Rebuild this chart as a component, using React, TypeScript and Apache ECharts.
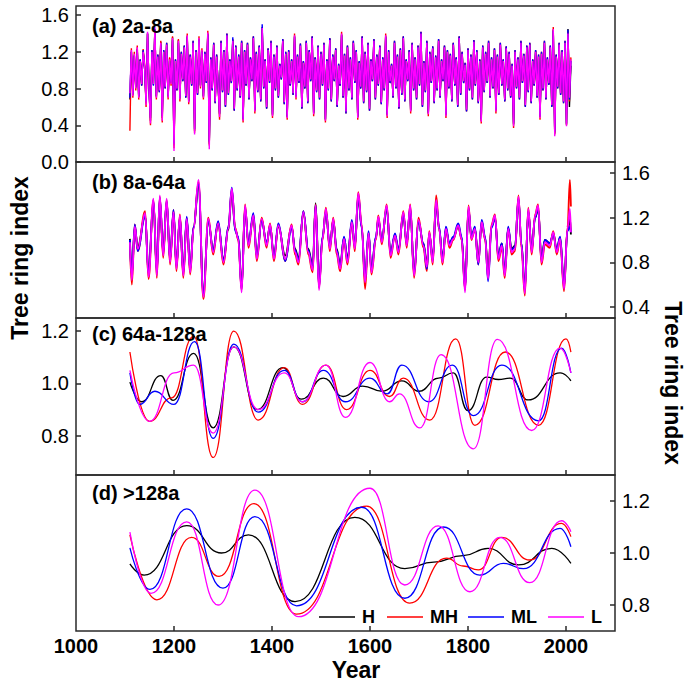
import React, { useEffect, useRef } from 'react';
import * as echarts from 'echarts';

// ---------- Panel (a) 2a-8a : values every 3 years from 1110 ----------
const A_START = 1110;
const A_STEP = 3;
const aL = [
  0.75, 1.22, 0.72, 1.18, 0.80, 1.25, 0.70, 1.10, 0.85, 1.20,
  1.05, 0.62, 1.42, 0.80, 0.42, 1.20, 0.85, 1.47, 0.70, 1.15,
  0.78, 1.30, 0.45, 1.20, 0.82, 1.28, 0.70, 1.12, 0.85, 1.35,
  0.12, 1.10, 0.80, 1.32, 0.68, 1.18, 0.90, 1.25, 0.72, 1.38,
  0.65, 1.15, 0.85, 1.30, 0.30, 1.20, 0.75, 1.35, 0.82, 1.22,
  0.70, 1.18, 0.88, 1.41, 0.14, 1.12, 0.80, 1.28, 0.66, 1.15,
  0.85, 0.49, 1.30, 0.78, 1.20, 0.62, 1.38, 0.75, 1.10, 0.88,
  1.32, 0.58, 1.25, 0.80, 1.15, 0.72, 1.30, 0.45, 1.20, 0.85,
  1.28, 0.70, 1.12, 0.90, 1.35, 0.55, 1.18, 0.78, 1.25, 0.68,
  1.46, 0.82, 1.10, 0.60, 1.22, 0.88, 1.30, 0.50, 1.15, 0.80,
  1.25, 0.72, 1.05, 0.92, 1.32, 0.65, 1.18, 0.48, 1.20, 0.85,
  1.10, 0.75, 1.38, 0.70, 1.15, 0.88, 1.27, 0.60, 1.08, 0.82,
  1.30, 0.66, 1.20, 0.90, 1.35, 0.52, 1.12, 0.78, 1.25, 0.70,
  1.18, 0.85, 1.28, 0.45, 1.10, 0.80, 1.33, 0.68, 1.15, 0.90,
  1.22, 0.62, 1.05, 0.85, 1.40, 0.72, 1.16, 0.55, 1.25, 0.80,
  1.12, 0.70, 1.30, 0.88, 1.20, 0.48, 1.08, 0.82, 1.35, 0.66,
  1.18, 0.78, 1.28, 0.58, 1.10, 0.90, 1.32, 0.70, 1.15, 0.85,
  1.25, 0.65, 1.12, 0.80, 1.38, 0.50, 1.20, 0.88, 1.05, 0.72,
  1.30, 0.82, 1.15, 0.60, 1.22, 0.75, 1.35, 0.68, 1.10, 0.90,
  1.20, 0.55, 1.28, 0.80, 1.12, 0.70, 1.25, 0.85, 1.40, 0.62,
  1.08, 0.78, 1.30, 0.52, 1.18, 0.88, 1.24, 0.66, 1.14, 0.80,
  1.32, 0.72, 1.10, 0.90, 1.25, 0.50, 1.20, 0.82, 1.16, 0.68,
  1.28, 0.85, 1.12, 0.62, 1.35, 0.75, 1.18, 0.88, 1.06, 0.57,
  1.22, 0.80, 1.15, 0.70, 1.31, 0.85, 1.20, 0.66, 1.10, 0.44,
  1.25, 0.78, 1.18, 0.88, 1.30, 0.72, 1.12, 0.82, 1.22, 0.55,
  1.15, 0.75, 1.28, 0.85, 1.10, 0.68, 1.24, 0.80, 1.18, 0.72,
  1.05, 0.39, 1.20, 0.82, 1.12, 0.70, 1.30, 0.88, 1.16, 0.62,
  1.25, 0.78, 1.28, 0.66, 1.10, 0.85, 1.20, 0.72, 1.15, 0.48,
  1.18, 0.80, 1.30, 0.70, 1.12, 0.86, 1.25, 0.62, 1.45, 0.28,
  1.15, 0.82, 1.28, 0.75, 1.20, 0.66, 1.30, 0.39, 1.40, 0.70,
  1.12,
];
const aML = [
  0.70, 1.20, 0.74, 1.16, 0.82, 1.22, 0.72, 1.12, 0.83, 1.22,
  1.03, 0.66, 1.40, 0.78, 0.48, 1.22, 0.83, 1.44, 0.72, 1.17,
  0.76, 1.28, 0.50, 1.22, 0.80, 1.30, 0.72, 1.10, 0.87, 1.33,
  0.20, 1.12, 0.78, 1.30, 0.70, 1.20, 0.88, 1.27, 0.70, 1.36,
  0.67, 1.17, 0.83, 1.32, 0.36, 1.22, 0.73, 1.33, 0.84, 1.20,
  0.72, 1.20, 0.86, 1.39, 0.22, 1.14, 0.78, 1.30, 0.64, 1.17,
  0.83, 0.53, 1.32, 0.76, 1.22, 0.60, 1.40, 0.73, 1.12, 0.86,
  1.36, 0.56, 1.27, 0.78, 1.17, 0.70, 1.32, 0.47, 1.22, 0.83,
  1.30, 0.68, 1.14, 0.88, 1.37, 0.57, 1.20, 0.76, 1.27, 0.66,
  1.50, 0.80, 1.12, 0.58, 1.24, 0.86, 1.32, 0.52, 1.17, 0.78,
  1.27, 0.70, 1.07, 0.90, 1.34, 0.63, 1.20, 0.50, 1.22, 0.83,
  1.12, 0.73, 1.36, 0.72, 1.17, 0.86, 1.29, 0.58, 1.10, 0.80,
  1.32, 0.64, 1.22, 0.88, 1.37, 0.54, 1.14, 0.76, 1.27, 0.68,
  1.20, 0.83, 1.30, 0.47, 1.12, 0.78, 1.35, 0.66, 1.17, 0.88,
  1.24, 0.60, 1.07, 0.83, 1.38, 0.70, 1.18, 0.53, 1.27, 0.78,
  1.14, 0.68, 1.32, 0.86, 1.22, 0.50, 1.10, 0.80, 1.37, 0.64,
  1.20, 0.76, 1.30, 0.56, 1.12, 0.88, 1.34, 0.68, 1.17, 0.83,
  1.27, 0.63, 1.14, 0.78, 1.36, 0.52, 1.22, 0.86, 1.07, 0.70,
  1.32, 0.80, 1.17, 0.58, 1.24, 0.73, 1.37, 0.66, 1.12, 0.88,
  1.22, 0.57, 1.30, 0.78, 1.14, 0.68, 1.27, 0.83, 1.42, 0.60,
  1.10, 0.76, 1.32, 0.54, 1.20, 0.86, 1.26, 0.64, 1.16, 0.78,
  1.34, 0.70, 1.12, 0.88, 1.27, 0.52, 1.22, 0.80, 1.18, 0.66,
  1.30, 0.83, 1.14, 0.60, 1.37, 0.73, 1.20, 0.86, 1.08, 0.55,
  1.24, 0.78, 1.17, 0.68, 1.33, 0.83, 1.22, 0.64, 1.12, 0.47,
  1.27, 0.76, 1.20, 0.86, 1.32, 0.70, 1.14, 0.80, 1.24, 0.57,
  1.17, 0.73, 1.30, 0.83, 1.12, 0.66, 1.26, 0.78, 1.20, 0.70,
  1.07, 0.42, 1.22, 0.80, 1.14, 0.68, 1.32, 0.86, 1.18, 0.60,
  1.27, 0.76, 1.30, 0.64, 1.12, 0.83, 1.22, 0.70, 1.17, 0.50,
  1.20, 0.78, 1.32, 0.68, 1.14, 0.84, 1.27, 0.60, 1.43, 0.33,
  1.17, 0.80, 1.30, 0.73, 1.22, 0.64, 1.32, 0.42, 1.44, 0.68,
  1.10,
];
const aMH = [
  0.34, 1.24, 0.70, 1.20, 0.78, 1.27, 0.68, 1.12, 0.83, 1.23,
  1.07, 0.60, 1.40, 0.82, 0.40, 1.22, 0.86, 1.45, 0.68, 1.17,
  0.76, 1.32, 0.43, 1.22, 0.80, 1.30, 0.68, 1.14, 0.83, 1.37,
  0.15, 1.12, 0.78, 1.34, 0.66, 1.20, 0.88, 1.27, 0.70, 1.40,
  0.63, 1.17, 0.83, 1.32, 0.32, 1.22, 0.73, 1.37, 0.80, 1.24,
  0.68, 1.20, 0.86, 1.43, 0.18, 1.14, 0.78, 1.30, 0.64, 1.17,
  0.83, 0.46, 1.32, 0.76, 1.22, 0.60, 1.40, 0.73, 1.12, 0.86,
  1.34, 0.56, 1.27, 0.78, 1.17, 0.70, 1.32, 0.43, 1.22, 0.83,
  1.30, 0.68, 1.14, 0.88, 1.37, 0.53, 1.20, 0.76, 1.27, 0.66,
  1.44, 0.80, 1.12, 0.58, 1.24, 0.86, 1.32, 0.48, 1.17, 0.78,
  1.27, 0.70, 1.07, 0.90, 1.34, 0.63, 1.20, 0.46, 1.22, 0.83,
  1.12, 0.73, 1.40, 0.68, 1.17, 0.86, 1.29, 0.58, 1.10, 0.80,
  1.32, 0.64, 1.22, 0.88, 1.37, 0.50, 1.14, 0.76, 1.27, 0.68,
  1.20, 0.83, 1.30, 0.43, 1.12, 0.78, 1.35, 0.66, 1.17, 0.88,
  1.24, 0.60, 1.07, 0.83, 1.42, 0.70, 1.18, 0.53, 1.27, 0.78,
  1.14, 0.68, 1.32, 0.86, 1.22, 0.46, 1.10, 0.80, 1.37, 0.64,
  1.20, 0.76, 1.30, 0.56, 1.12, 0.88, 1.34, 0.68, 1.17, 0.83,
  1.27, 0.63, 1.14, 0.78, 1.40, 0.48, 1.22, 0.86, 1.07, 0.70,
  1.32, 0.80, 1.17, 0.58, 1.24, 0.73, 1.37, 0.66, 1.12, 0.88,
  1.22, 0.53, 1.30, 0.78, 1.14, 0.68, 1.27, 0.83, 1.42, 0.60,
  1.10, 0.76, 1.32, 0.50, 1.20, 0.86, 1.26, 0.64, 1.16, 0.78,
  1.34, 0.70, 1.12, 0.88, 1.27, 0.48, 1.22, 0.80, 1.18, 0.66,
  1.30, 0.83, 1.14, 0.60, 1.37, 0.73, 1.20, 0.86, 1.08, 0.55,
  1.24, 0.78, 1.17, 0.68, 1.33, 0.83, 1.22, 0.64, 1.12, 0.42,
  1.27, 0.76, 1.20, 0.86, 1.32, 0.70, 1.14, 0.80, 1.24, 0.53,
  1.17, 0.73, 1.30, 0.83, 1.12, 0.66, 1.26, 0.78, 1.20, 0.70,
  1.07, 0.37, 1.22, 0.80, 1.14, 0.68, 1.32, 0.86, 1.18, 0.60,
  1.27, 0.76, 1.30, 0.64, 1.12, 0.83, 1.22, 0.70, 1.17, 0.46,
  1.20, 0.78, 1.32, 0.68, 1.14, 0.84, 1.27, 0.60, 1.47, 0.30,
  1.17, 0.80, 1.30, 0.73, 1.22, 0.64, 1.32, 0.40, 1.42, 0.66,
  1.14,
];
const aH = [
  0.68, 1.20, 0.73, 1.16, 0.81, 1.23, 0.71, 1.11, 0.84, 1.21,
  1.04, 0.64, 1.40, 0.81, 0.45, 1.21, 0.84, 1.45, 0.71, 1.16,
  0.77, 1.31, 0.48, 1.21, 0.81, 1.29, 0.71, 1.13, 0.86, 1.36,
  0.18, 1.11, 0.79, 1.33, 0.69, 1.19, 0.89, 1.26, 0.71, 1.37,
  0.66, 1.16, 0.84, 1.31, 0.34, 1.21, 0.74, 1.34, 0.83, 1.21,
  0.71, 1.19, 0.87, 1.40, 0.20, 1.13, 0.79, 1.29, 0.65, 1.16,
  0.84, 0.52, 1.31, 0.77, 1.21, 0.61, 1.39, 0.74, 1.11, 0.87,
  1.33, 0.57, 1.26, 0.79, 1.16, 0.71, 1.31, 0.46, 1.21, 0.84,
  1.29, 0.69, 1.13, 0.89, 1.36, 0.56, 1.19, 0.77, 1.26, 0.67,
  1.47, 0.81, 1.11, 0.59, 1.23, 0.87, 1.31, 0.51, 1.16, 0.79,
  1.26, 0.71, 1.06, 0.91, 1.33, 0.64, 1.19, 0.49, 1.21, 0.84,
  1.11, 0.74, 1.37, 0.71, 1.16, 0.87, 1.28, 0.59, 1.09, 0.81,
  1.31, 0.65, 1.21, 0.89, 1.36, 0.53, 1.13, 0.77, 1.26, 0.69,
  1.19, 0.84, 1.29, 0.46, 1.11, 0.79, 1.34, 0.67, 1.16, 0.89,
  1.23, 0.61, 1.06, 0.84, 1.39, 0.71, 1.17, 0.56, 1.26, 0.79,
  1.13, 0.69, 1.31, 0.87, 1.21, 0.49, 1.09, 0.81, 1.36, 0.65,
  1.19, 0.77, 1.29, 0.57, 1.11, 0.89, 1.33, 0.69, 1.16, 0.84,
  1.26, 0.64, 1.13, 0.79, 1.37, 0.51, 1.21, 0.87, 1.06, 0.71,
  1.31, 0.81, 1.16, 0.59, 1.23, 0.74, 1.36, 0.67, 1.11, 0.89,
  1.21, 0.56, 1.29, 0.79, 1.13, 0.69, 1.26, 0.84, 1.41, 0.61,
  1.09, 0.77, 1.31, 0.53, 1.19, 0.87, 1.25, 0.65, 1.15, 0.79,
  1.33, 0.71, 1.11, 0.89, 1.26, 0.51, 1.21, 0.81, 1.17, 0.67,
  1.29, 0.84, 1.13, 0.61, 1.36, 0.74, 1.19, 0.87, 1.07, 0.56,
  1.23, 0.79, 1.16, 0.69, 1.32, 0.84, 1.21, 0.65, 1.11, 0.45,
  1.26, 0.77, 1.19, 0.87, 1.31, 0.71, 1.13, 0.81, 1.23, 0.56,
  1.16, 0.74, 1.29, 0.84, 1.11, 0.67, 1.25, 0.79, 1.19, 0.71,
  1.06, 0.41, 1.21, 0.81, 1.13, 0.69, 1.31, 0.87, 1.17, 0.61,
  1.26, 0.77, 1.29, 0.65, 1.11, 0.84, 1.21, 0.71, 1.16, 0.49,
  1.19, 0.79, 1.31, 0.69, 1.13, 0.85, 1.26, 0.61, 1.44, 0.31,
  1.16, 0.81, 1.29, 0.74, 1.21, 0.65, 1.31, 0.41, 1.45, 0.60,
  1.05,
];

// ---------- Panel (b) 8a-64a ----------
const bYears = [
  1110, 1114, 1120, 1126, 1141, 1148, 1158, 1165, 1171, 1178,
  1185, 1192, 1199, 1205, 1212, 1219, 1226, 1233, 1240, 1250,
  1260, 1270, 1280, 1290, 1301, 1311, 1318, 1325, 1331, 1338,
  1345, 1352, 1362, 1369, 1379, 1389, 1396, 1404, 1413, 1427,
  1440, 1447, 1454, 1464, 1474, 1483, 1489, 1496, 1503, 1510,
  1518, 1525, 1532, 1539, 1547, 1554, 1563, 1569, 1576, 1583,
  1590, 1597, 1603, 1612, 1617, 1624, 1634, 1642, 1651, 1658,
  1668, 1675, 1682, 1690, 1699, 1709, 1716, 1721, 1728, 1735,
  1741, 1748, 1755, 1762, 1770, 1780, 1787, 1794, 1801, 1807,
  1814, 1821, 1828, 1835, 1841, 1848, 1855, 1862, 1869, 1875,
  1882, 1889, 1896, 1903, 1909, 1916, 1923, 1930, 1937, 1943,
  1950, 1957, 1967, 1974, 1981, 1988, 1996, 2003, 2008, 2010,
];
const bL = [
  0.98, 0.64, 1.12, 0.92, 1.24, 0.67, 1.37, 0.68, 1.40, 0.86,
  1.37, 0.80, 1.25, 0.74, 1.22, 0.68, 1.19, 0.71, 1.10, 1.54,
  0.49, 1.19, 0.89, 1.15, 0.80, 1.10, 1.46, 1.10, 1.01, 0.53,
  1.31, 0.95, 1.22, 0.83, 1.19, 0.95, 1.14, 0.83, 1.13, 0.83,
  1.13, 0.89, 0.80, 1.25, 0.89, 0.73, 1.31, 0.55, 1.01, 1.28,
  0.92, 1.19, 0.89, 0.74, 1.01, 0.80, 1.16, 0.92, 1.42, 1.13,
  0.62, 1.06, 0.71, 1.01, 1.21, 0.98, 1.31, 0.86, 1.04, 0.89,
  1.25, 0.95, 1.31, 0.68, 1.18, 0.95, 0.76, 1.07, 0.80, 1.36,
  1.10, 0.80, 1.10, 0.95, 1.01, 1.13, 1.01, 0.53, 1.30, 1.01,
  1.10, 0.80, 1.16, 1.01, 0.65, 1.13, 1.22, 0.83, 0.95, 0.68,
  1.10, 0.89, 0.92, 1.39, 0.95, 0.52, 1.28, 0.89, 1.22, 1.31,
  0.80, 0.98, 0.95, 1.07, 0.89, 1.01, 0.56, 1.10, 1.28, 1.07,
];
const bML = [
  1.00, 0.68, 1.14, 0.90, 1.22, 0.70, 1.35, 0.71, 1.38, 0.88,
  1.35, 0.82, 1.27, 0.76, 1.20, 0.70, 1.21, 0.73, 1.12, 1.50,
  0.52, 1.17, 0.91, 1.17, 0.82, 1.12, 1.47, 1.08, 1.03, 0.56,
  1.29, 0.97, 1.24, 0.85, 1.17, 0.97, 1.12, 0.85, 1.15, 0.81,
  1.11, 0.91, 0.82, 1.26, 0.91, 0.75, 1.31, 0.58, 1.03, 1.26,
  0.94, 1.17, 0.91, 0.76, 1.03, 0.82, 1.18, 0.94, 1.40, 1.11,
  0.64, 1.08, 0.73, 1.03, 1.19, 1.00, 1.29, 0.88, 1.06, 0.91,
  1.23, 0.97, 1.29, 0.70, 1.16, 0.97, 0.74, 1.05, 0.82, 1.34,
  1.12, 0.82, 1.12, 0.97, 1.03, 1.15, 1.03, 0.56, 1.28, 1.03,
  1.12, 0.78, 1.18, 1.03, 0.63, 1.11, 1.20, 0.85, 0.97, 0.70,
  1.12, 0.91, 0.94, 1.37, 0.97, 0.55, 1.26, 0.91, 1.20, 1.29,
  0.82, 1.00, 0.97, 1.05, 0.91, 1.03, 0.58, 1.08, 1.12, 1.07,
];
const bMH = [
  0.96, 0.60, 1.14, 0.90, 1.26, 0.65, 1.36, 0.66, 1.39, 0.84,
  1.36, 0.78, 1.27, 0.72, 1.23, 0.66, 1.20, 0.69, 1.12, 1.52,
  0.47, 1.20, 0.87, 1.16, 0.78, 1.12, 1.45, 1.11, 1.00, 0.55,
  1.32, 0.93, 1.23, 0.81, 1.20, 0.93, 1.15, 0.81, 1.14, 0.81,
  1.14, 0.87, 0.78, 1.26, 0.87, 0.71, 1.32, 0.57, 1.00, 1.29,
  0.90, 1.20, 0.87, 0.72, 1.00, 0.78, 1.17, 0.90, 1.43, 1.14,
  0.56, 1.07, 0.69, 1.00, 1.22, 0.96, 1.32, 0.84, 1.05, 0.87,
  1.26, 0.93, 1.32, 0.66, 1.20, 0.93, 0.72, 1.08, 0.78, 1.40,
  1.11, 0.78, 1.11, 0.93, 1.00, 1.14, 1.00, 0.55, 1.31, 1.00,
  1.11, 0.78, 1.17, 1.00, 0.66, 1.14, 1.23, 0.81, 0.93, 0.66,
  1.11, 0.87, 0.90, 1.40, 0.93, 0.50, 1.29, 0.87, 1.23, 1.32,
  0.78, 0.96, 0.93, 1.08, 0.87, 1.00, 0.54, 1.11, 1.54, 1.30,
];
const bH = [
  1.01, 0.70, 1.11, 0.94, 1.22, 0.72, 1.34, 0.73, 1.36, 0.90,
  1.34, 0.83, 1.24, 0.77, 1.20, 0.72, 1.18, 0.74, 1.11, 1.48,
  0.54, 1.16, 0.92, 1.14, 0.83, 1.09, 1.43, 1.09, 1.02, 0.58,
  1.28, 0.98, 1.21, 0.86, 1.18, 0.97, 1.13, 0.86, 1.12, 0.86,
  1.12, 0.92, 0.84, 1.24, 0.92, 0.77, 1.33, 0.60, 1.02, 1.25,
  0.94, 1.18, 0.92, 0.78, 1.02, 0.84, 1.15, 0.94, 1.38, 1.12,
  0.66, 1.05, 0.75, 1.02, 1.18, 1.00, 1.28, 0.89, 1.04, 0.92,
  1.22, 0.97, 1.28, 0.72, 1.16, 0.97, 0.79, 1.06, 0.84, 1.32,
  1.10, 0.84, 1.09, 0.97, 1.02, 1.12, 1.02, 0.58, 1.27, 1.02,
  1.10, 0.84, 1.14, 1.02, 0.70, 1.12, 1.20, 0.86, 0.97, 0.72,
  1.10, 0.92, 0.95, 1.36, 0.97, 0.57, 1.25, 0.92, 1.20, 1.28,
  0.84, 1.00, 0.97, 1.06, 0.92, 1.02, 0.60, 1.09, 1.20, 1.05,
];

// ---------- Panel (c) 64a-128a : [year, value] ----------
const cH = [
  [1110, 1.005], [1134, 0.93], [1173, 1.03], [1198, 0.935], [1240, 1.115], [1280, 0.83],
  [1322, 1.14], [1370, 0.90], [1422, 1.06], [1460, 0.94], [1505, 1.02], [1545, 0.95],
  [1585, 0.99], [1625, 0.97], [1665, 1.01], [1700, 0.97], [1740, 1.02], [1770, 1.04],
  [1800, 0.896], [1838, 1.024], [1862, 1.015], [1886, 1.02], [1923, 0.937], [1988, 1.04], [2010, 1.01],
];
const cMH = [
  [1110, 1.12], [1150, 0.855], [1195, 0.945], [1240, 1.18], [1280, 0.717], [1322, 1.2],
  [1372, 0.86], [1425, 1.06], [1462, 0.92], [1510, 1.07], [1552, 0.90], [1600, 1.05],
  [1640, 0.95], [1668, 1.02], [1722, 0.86], [1775, 1.17], [1814, 0.84], [1876, 1.12],
  [1944, 0.84], [2000, 1.17], [2010, 1.12],
];
const cML = [
  [1110, 1.04], [1130, 0.92], [1161, 0.97], [1200, 0.92], [1242, 1.16], [1280, 0.79],
  [1322, 1.15], [1372, 0.89], [1425, 1.05], [1462, 0.93], [1505, 1.05], [1550, 0.93],
  [1600, 1.02], [1635, 0.96], [1665, 1.07], [1720, 0.93], [1768, 1.07], [1811, 0.877],
  [1869, 1.07], [1944, 0.857], [1991, 1.135], [2010, 1.04],
];
const cL = [
  [1110, 1.05], [1150, 0.855], [1200, 1.04], [1240, 1.07], [1280, 0.81], [1322, 1.14],
  [1372, 0.90], [1425, 1.04], [1462, 0.93], [1510, 1.07], [1550, 0.87], [1600, 1.08],
  [1640, 0.93], [1660, 0.96], [1702, 0.83], [1745, 1.11], [1811, 0.75], [1860, 1.168],
  [1930, 0.82], [1988, 1.135], [2010, 1.04],
];

// ---------- Panel (d) >128a : [year, value] ----------
const dH = [
  [1110, 0.958], [1139, 0.915], [1226, 1.105], [1297, 1.0], [1352, 1.07], [1447, 0.813],
  [1569, 1.137], [1671, 0.94], [1730, 0.965], [1790, 0.99], [1841, 1.018], [1903, 0.954],
  [1971, 1.018], [2010, 0.96],
];
const dMH = [
  [1110, 1.07], [1165, 0.82], [1236, 1.06], [1292, 0.91], [1363, 1.19], [1450, 0.765],
  [1593, 1.18], [1681, 0.807], [1756, 0.98], [1790, 0.95], [1821, 0.935], [1869, 1.06],
  [1926, 0.973], [1991, 1.114], [2010, 1.063],
];
const dML = [
  [1110, 1.02], [1151, 0.86], [1226, 1.17], [1300, 0.865], [1365, 1.14], [1450, 0.797],
  [1583, 1.176], [1671, 0.826], [1750, 1.10], [1824, 0.915], [1872, 0.96], [1913, 0.94],
  [1988, 1.095], [2010, 1.024],
];
const dL = [
  [1110, 1.08], [1153, 0.845], [1226, 1.12], [1290, 0.80], [1365, 1.242], [1454, 0.755],
  [1600, 1.249], [1671, 0.877], [1739, 1.104], [1804, 0.851], [1865, 1.06], [1926, 0.886],
  [1991, 1.124], [2010, 1.082],
];

const SERIES_NAMES = ['H', 'MH', 'ML', 'L'];
const COLORS = ['#000000', '#FF0000', '#0000FF', '#FF00FF'];
const PANEL_LABELS = ['(a) 2a-8a', '(b) 8a-64a', '(c) 64a-128a', '(d) >128a'];
const X_TICKS = [1000, 1200, 1400, 1600, 1800, 2000];
const Y_TICKS = [
  [0, 0.4, 0.8, 1.2, 1.6],
  [0.4, 0.8, 1.2, 1.6],
  [0.8, 1.0, 1.2],
  [0.8, 1.0, 1.2],
];
const Y_RANGES = [
  [0, 1.7],
  [0.3, 1.7],
  [0.65, 1.25],
  [0.7, 1.3],
];
const Y_POS = ['left', 'right', 'left', 'right'];

const FONT = '"Liberation Sans", Arial, sans-serif';

export default function App() {
  const ref = useRef<HTMLDivElement>(null);
  useEffect(() => {
    if (!ref.current) return;
    const chart = echarts.init(ref.current, undefined, { renderer: 'svg' });

    const gridBoxes = [
      { top: 6, height: 156 },
      { top: 162, height: 156 },
      { top: 318, height: 157 },
      { top: 475, height: 156 },
    ];
    const grids = gridBoxes.map((g) => ({
      left: 76,
      width: 539,
      top: g.top,
      height: g.height,
      show: true,
      borderColor: '#2a2a2a',
      borderWidth: 1.5,
      backgroundColor: 'transparent',
    }));

    const xAxes = gridBoxes.map((_, i) => ({
      type: 'value',
      gridIndex: i,
      min: 1000,
      max: 2100,
      axisLine: { show: false },
      splitLine: { show: false },
      axisTick: {
        show: true,
        inside: true,
        length: 5,
        customValues: [1200, 1400, 1600, 1800, 2000],
        lineStyle: { color: '#2a2a2a', width: 1.5 },
      },
      axisLabel: {
        show: i === 3,
        customValues: X_TICKS,
        fontSize: 20,
        fontWeight: 'bold',
        color: '#000',
        fontFamily: FONT,
        margin: 5,
        formatter: (v: number) => String(v),
      },
    }));

    const yAxes = gridBoxes.map((_, i) => ({
      type: 'value',
      gridIndex: i,
      position: Y_POS[i],
      min: Y_RANGES[i][0],
      max: Y_RANGES[i][1],
      axisLine: { show: false },
      splitLine: { show: false },
      axisTick: {
        show: true,
        inside: true,
        length: 5,
        customValues: Y_TICKS[i],
        lineStyle: { color: '#2a2a2a', width: 1.5 },
      },
      axisLabel: {
        show: true,
        customValues: Y_TICKS[i],
        fontSize: 20,
        color: '#000',
        fontFamily: FONT,
        margin: 7,
        formatter: (v: number) => v.toFixed(1),
      },
    }));

    const toPairs = (vals: number[], start: number, step: number) =>
      vals.map((v, k) => [start + step * k, v]);
    const withYears = (years: number[], vals: number[]) => years.map((y, k) => [y, vals[k]]);

    const panelData = [
      [aH, aMH, aML, aL].map((v) => toPairs(v, A_START, A_STEP)),
      [bH, bMH, bML, bL].map((v) => withYears(bYears, v)),
      [cH, cMH, cML, cL],
      [dH, dMH, dML, dL],
    ];
    const widths = [1.4, 1.8, 1.3, 1.3];
    const smooths: (boolean | number)[] = [false, 0.4, 0.5, 0.5];

    const series: any[] = [];
    panelData.forEach((set, p) => {
      set.forEach((data, s) => {
        series.push({
          type: 'line',
          name: SERIES_NAMES[s],
          xAxisIndex: p,
          yAxisIndex: p,
          data,
          symbol: 'none',
          showSymbol: false,
          smooth: smooths[p],
          smoothMonotone: 'x',
          lineStyle: { color: COLORS[s], width: widths[p] },
          itemStyle: { color: COLORS[s] },
          emphasis: { disabled: true },
          silent: true,
          animation: false,
        });
      });
    });

    const legendLefts = [319, 387, 468, 548];
    const legends = SERIES_NAMES.map((n, i) => ({
      data: [{ name: n, icon: 'rect' }],
      left: legendLefts[i],
      top: 608,
      padding: 0,
      itemWidth: 36,
      itemHeight: 1.6,
      itemGap: 0,
      selectedMode: false,
      itemStyle: { color: COLORS[i], borderWidth: 0 },
      textStyle: { fontSize: 18, fontWeight: 'bold', color: '#000', fontFamily: FONT, padding: [0, 0, 0, 2] },
    }));

    const gridTops = [26, 182, 334, 493];
    const graphics: any[] = PANEL_LABELS.map((t, i) => ({
      type: 'text',
      x: 92,
      y: gridTops[i],
      style: {
        text: t,
        font: `bold 20px ${FONT}`,
        fill: '#000',
        verticalAlign: 'middle',
        align: 'left',
      },
      z: 10,
    }));
    graphics.push({
      type: 'text',
      x: 356,
      y: 670,
      style: { text: 'Year', font: `bold 23px ${FONT}`, fill: '#000', align: 'center', verticalAlign: 'middle' },
    });
    graphics.push({
      type: 'text',
      x: 20,
      y: 258,
      rotation: Math.PI / 2,
      style: { text: 'Tree ring index', font: `bold 23px ${FONT}`, fill: '#000', align: 'center', verticalAlign: 'middle' },
    });
    graphics.push({
      type: 'text',
      x: 673,
      y: 383,
      rotation: -Math.PI / 2,
      style: { text: 'Tree ring index', font: `bold 23px ${FONT}`, fill: '#000', align: 'center', verticalAlign: 'middle' },
    });

    chart.setOption({
      animation: false,
      backgroundColor: '#ffffff',
      textStyle: { fontFamily: FONT },
      grid: grids,
      xAxis: xAxes,
      yAxis: yAxes,
      legend: legends,
      series,
      graphic: graphics,
    });

    return () => {
      chart.dispose();
    };
  }, []);

  return (
    <div
      ref={ref}
      style={{ position: 'absolute', left: 0, top: 0, width: 690, height: 683, background: '#fff' }}
    />
  );
}
